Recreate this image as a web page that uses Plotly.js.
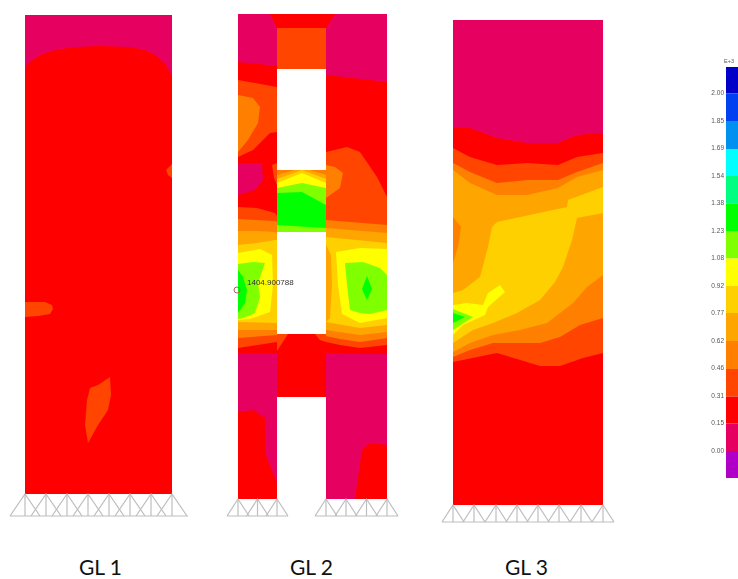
<!DOCTYPE html>
<html>
<head>
<meta charset="utf-8">
<script src="https://cdn.plot.ly/plotly-3.0.1.min.js"></script>
<style>
html,body{margin:0;padding:0;background:#fff;overflow:hidden}
#chart{width:738px;height:579px}
.barlayer{filter:blur(0.7px)}
</style>
</head>
<body>
<div id="chart"></div>
<script>
// ---- contour level colours
const MAG='#E6005F', RED='#FF0000', ORD='#FF4500', ORG='#FF8000', AMB='#FFA500', GLD='#FFD000', YEL='#FFFF00', YGR='#80FF00', GRN='#00FF00';

// ---- colour key
const keyLabels=['2.00','1.85','1.69','1.54','1.38','1.23','1.08','0.92','0.77','0.62','0.46','0.31','0.15','0.00'];
const keyLabelY=[93,121,148,176,203,231,258,286,313,341,368,396,423,451];
const keyBandTop=[67,93.5,121,149,176,203.5,231,258.5,286,313,341,369,396.5,423.5,451];
const keyBandColor=['#0000C8','#0040F0','#0090F0','#00FFFF','#00FF80',GRN,YGR,YEL,GLD,AMB,ORG,ORD,RED,MAG,'#B000C8'];
const keyBandHeight=[26.5,27.5,28,27,27.5,27.5,27.5,27.5,27,28,28,27.5,27,27.5,27];

// ---- GL 1 wall
const gl1Edge=[25,172], gl1Top=15, gl1Bot=494;
const gl1RedX=[25,30,40,55,75,100,130,145,155,165,172];
const gl1RedY=[68,62,55,50,47,46,47,50,55,64,76];
const gl1Blob1X=[172,166,168,172], gl1Blob1Y=[164,170,175,178];
const gl1Blob2X=[25,45,52,53,50,38,25], gl1Blob2Y=[302,302,305,309,314,316,317];
const gl1Blob3X=[98,110,111,108,98,88,85,87,90], gl1Blob3Y=[385,377,395,410,425,443,425,400,388];
const gl1Nodes=[25,46,67,88,109,130,151,172];

// ---- GL 2 left pier
const l2Edge=[238,277], gl2Top=14, gl2Bot=499;
const l2RedX=[238,258,277], l2RedY=[62,64,66];
const l2OrdX=[238,277], l2OrdY=[80,87];
const l2OrgBlobX=[238,253,260,258,248,238], l2OrgBlobY=[95,98,107,123,140,152];
const l2Red2X=[238,253,270,277], l2Red2Y=[157,150,133,132];
const l2MagBlobX=[238,262,263,255,238], l2MagBlobY=[163,163,180,190,195];
const l2BumpX=[272,277,277,274], l2BumpY=[165,163,185,178];
const l2Band1X=[238,257,275,277], l2Band1Y=[207,208,213,216];
const l2Band2Y=[219,220,221,222];
const l2Band3Y=[231,231,232,233];
const l2Band4Y=[245,243,240,240];
const l2YelX=[238,260,272,273,270,250,238], l2YelY=[253,249,255,285,312,319,320];
const l2YgrX=[238,253,265,262,258,260,255,243,238], l2YgrY=[264,262,263,272,283,297,313,318,319];
const l2GrnX=[238,243,247,245,238], l2GrnY=[270,277,290,303,313];
const l2LowX=[238,277];
const l2Low1Y=[322,323], l2Low2Y=[330,330], l2Low3Y=[338,335], l2Low4Y=[348,342], l2Low5Y=[353,353];
const l2BaseRedX=[238,253,265,265,277,277,238], l2BaseRedY=[412,410,418,453,483,499,499];

// ---- GL 2 right pier
const r2Edge=[326,387];
const r2RedY=[75,82];
const r2OrdX=[326,347,360,377,387], r2OrdY=[152,147,152,177,197];
const r2OrgBlobX=[326,335,343,340,326], r2OrgBlobY=[165,167,173,188,198];
const r2Band2Y=[220,225], r2Band3Y=[228,233], r2Band4Y=[237,243];
const r2YelX=[336,360,387,387,360,342,338], r2YelY=[252,248,249,318,323,314,285];
const r2AmbX=[326,331,332,330,326], r2AmbY=[245,255,285,318,322];
const r2YgrX=[345,363,380,387,387,370,360,350,347], r2YgrY=[263,262,268,275,310,314,313,310,285];
const r2GrnX=[367,372,367,362], r2GrnY=[276,289,300,289];
const r2Low1X=[326,360,387], r2Low1Y=[322,328,325], r2Low2Y=[330,335,332];
const r2Low3X=[326,340,360,387], r2Low3Y=[336,339,342,338], r2Low4Y=[342,345,348,345], r2Low5Y=[353,353,354,354];
const r2BaseRedX=[355,362,370,387,387], r2BaseRedY=[499,450,443,445,499];

// ---- GL 2 coupling beams
const m2TopX=[270,335,326,277], m2TopY=[14,14,28,28];
const m2Edge=[277,326];
const m2Beam1Y=[28,69], m2Beam2Y=[170,232], m2Beam3Y=[334,397];
const m2AmbX=[277,295,310,326,326,277], m2AmbY=[175,170,170,175,232,232];
const m2GldX=[277,302,326,326,277], m2GldY=[179,170,179,232,232];
const m2YelX=[277,302,326,326,277], m2YelY=[183,173,183,232,232];
const m2YgrX=[277,302,326,326,277], m2YgrY=[188,183,188,232,232];
const m2GrnX=[277,302,326,326,277], m2GrnY=[193,192,205,228,225];
const m2CornerLX=[277,288,277], m2CornerLY=[334,334,351];
const m2CornerRX=[315,326,326,320], m2CornerRY=[334,334,342,340];
const gl2LeftNodes=[238,257.5,277], gl2RightNodes=[326,346,366.5,387];

// ---- GL 3 wall
const gl3Edge=[453,603], gl3Top=20, gl3Bot=505;
const g3X=[453,470,497,527,558,577,603];
const g3RedY=[128,128,138,143,143,135,133];
const g3OrdY=[148,157,165,163,165,157,153];
const g3OrgY=[163,172,183,180,180,172,163];
const g3AmbY=[170,183,195,195,188,177,170];
const g3GldX=[603,568,567,497,492,488,480,463,453,453,473,493,517,540,555,563,572,577,603];
const g3GldY=[187,200,207,222,227,247,277,290,293,343,330,323,313,300,282,267,240,218,213];
const g3OrgBlobX=[453,461,458,453], g3OrgBlobY=[217,227,247,263];
const g3YelX=[453,467,483,488,500,505,488,485,463,453], g3YelY=[305,303,305,293,285,292,307,315,325,335];
const g3YgrX=[453,473,453], g3YgrY=[309,317,330];
const g3GrnX=[453,465,453], g3GrnY=[313,317,323];
const g3Low1X=[453,470,493,520,547,573,587,603], g3Low1Y=[352,343,335,330,323,303,287,275];
const g3Low2X=[453,470,493,517,540,560,580,603], g3Low2Y=[357,350,343,343,343,337,325,318];
const g3Low3X=[453,473,497,517,540,560,583,603], g3Low3Y=[362,358,353,359,366,366,358,353];
const gl3Nodes=[453,474,496,517,538,559,581,603];

// ---- labels
const wallNames=['GL 1','GL 2','GL 3'], wallNameX=[100,311,526.5], wallNameY=[566,566,566];
const probeText='1404.900788', probeTextX=[247], probeTextY=[283], probeX=[237], probeY=[290];

// ---- helpers that turn the arrays into traces
const traces=[];
function region(x,y,c){traces.push({type:'scatter',mode:'lines',x:x.concat([x[0]]),y:y.concat([y[0]]),fill:'toself',fillcolor:c,line:{width:0,color:c},hoverinfo:'skip',showlegend:false,meta:'soft'});}
function below(x,y,bottom,c){region(x.concat([x[x.length-1],x[0]]),y.concat([bottom,bottom]),c);}
function box(edge,top,bot,c){region([edge[0],edge[1],edge[1],edge[0]],[top,top,bot,bot],c);}
function truss(nodes,top,bot,dx,lo,hi){
  const x=[lo,hi,null],y=[bot,bot,null];
  nodes.forEach(n=>{x.push(n-dx,n,n+dx,null,n,n,null);y.push(bot,top,bot,null,top,bot,null);});
  traces.push({type:'scatter',mode:'lines',x,y,line:{width:1.2,color:'#BEBEBE'},hoverinfo:'skip',showlegend:false,meta:'fine'});
}

// colour key
traces.push({type:'bar',x:keyBandTop.map(()=>732),y:keyBandHeight,base:keyBandTop,width:keyBandTop.map(()=>12),marker:{color:keyBandColor,line:{width:0}},hoverinfo:'skip',showlegend:false});

// GL 1
box(gl1Edge,gl1Top,gl1Bot,MAG);
below(gl1RedX,gl1RedY,gl1Bot,RED);
region(gl1Blob1X,gl1Blob1Y,ORD);region(gl1Blob2X,gl1Blob2Y,ORD);region(gl1Blob3X,gl1Blob3Y,ORD);
truss(gl1Nodes,gl1Bot,516,15,10,188);

// GL 2 left pier
box(l2Edge,gl2Top,gl2Bot,MAG);
below(l2RedX,l2RedY,gl2Bot,RED);
below(l2OrdX,l2OrdY,gl2Bot,ORD);
region(l2OrgBlobX,l2OrgBlobY,ORG);
below(l2Red2X,l2Red2Y,gl2Bot,RED);
region(l2MagBlobX,l2MagBlobY,MAG);
region(l2BumpX,l2BumpY,ORD);
below(l2Band1X,l2Band1Y,gl2Bot,ORD);
below(l2Band1X,l2Band2Y,gl2Bot,ORG);
below(l2Band1X,l2Band3Y,gl2Bot,AMB);
below(l2Band1X,l2Band4Y,gl2Bot,GLD);
region(l2YelX,l2YelY,YEL);
region(l2YgrX,l2YgrY,YGR);
region(l2GrnX,l2GrnY,GRN);
below(l2LowX,l2Low1Y,gl2Bot,AMB);
below(l2LowX,l2Low2Y,gl2Bot,ORG);
below(l2LowX,l2Low3Y,gl2Bot,ORD);
below(l2LowX,l2Low4Y,gl2Bot,RED);
below(l2LowX,l2Low5Y,gl2Bot,MAG);
region(l2BaseRedX,l2BaseRedY,RED);

// GL 2 right pier
box(r2Edge,gl2Top,gl2Bot,MAG);
below(r2Edge,r2RedY,gl2Bot,RED);
below(r2OrdX,r2OrdY,gl2Bot,ORD);
region(r2OrgBlobX,r2OrgBlobY,ORG);
below(r2Edge,r2Band2Y,gl2Bot,ORG);
below(r2Edge,r2Band3Y,gl2Bot,AMB);
below(r2Edge,r2Band4Y,gl2Bot,GLD);
region(r2YelX,r2YelY,YEL);
region(r2AmbX,r2AmbY,AMB);
region(r2YgrX,r2YgrY,YGR);
region(r2GrnX,r2GrnY,GRN);
below(r2Low1X,r2Low1Y,gl2Bot,AMB);
below(r2Low1X,r2Low2Y,gl2Bot,ORG);
below(r2Low3X,r2Low3Y,gl2Bot,ORD);
below(r2Low3X,r2Low4Y,gl2Bot,RED);
below(r2Low3X,r2Low5Y,gl2Bot,MAG);
region(r2BaseRedX,r2BaseRedY,RED);

// GL 2 coupling beams
box(m2Edge,m2Beam1Y[0],m2Beam1Y[1],ORD);
region(m2TopX,m2TopY,RED);
box(m2Edge,m2Beam2Y[0],m2Beam2Y[1],ORG);
region(m2AmbX,m2AmbY,AMB);region(m2GldX,m2GldY,GLD);region(m2YelX,m2YelY,YEL);
region(m2YgrX,m2YgrY,YGR);region(m2GrnX,m2GrnY,GRN);
box(m2Edge,m2Beam3Y[0],m2Beam3Y[1],RED);
region(m2CornerLX,m2CornerLY,ORD);region(m2CornerRX,m2CornerRY,ORD);
truss(gl2LeftNodes,gl2Bot,516,11,227,288);
truss(gl2RightNodes,gl2Bot,516,11,315,398);

// GL 3
box(gl3Edge,gl3Top,gl3Bot,MAG);
below(g3X,g3RedY,gl3Bot,RED);
below(g3X,g3OrdY,gl3Bot,ORD);
below(g3X,g3OrgY,gl3Bot,ORG);
below(g3X,g3AmbY,gl3Bot,AMB);
region(g3GldX,g3GldY,GLD);
region(g3OrgBlobX,g3OrgBlobY,ORG);
region(g3YelX,g3YelY,YEL);
region(g3YgrX,g3YgrY,YGR);
region(g3GrnX,g3GrnY,GRN);
below(g3Low1X,g3Low1Y,gl3Bot,ORG);
below(g3Low2X,g3Low2Y,gl3Bot,ORD);
below(g3Low3X,g3Low3Y,gl3Bot,RED);
truss(gl3Nodes,gl3Bot,522,11,442,614);

// probe marker + text
traces.push({type:'scatter',mode:'markers',x:probeX,y:probeY,marker:{symbol:'circle-open',size:6,color:'#B06060',line:{width:1}},hoverinfo:'skip',showlegend:false,meta:'fine'});
traces.push({type:'scatter',mode:'text',x:probeTextX,y:probeTextY,text:[probeText],textposition:'middle right',textfont:{family:'Liberation Sans',size:8,color:'#333'},hoverinfo:'skip',showlegend:false,meta:'fine'});

// colour key labels
traces.push({type:'scatter',mode:'text',x:keyLabels.map(()=>724),y:keyLabelY,text:keyLabels,textposition:'middle left',textfont:{family:'Liberation Sans',size:6.5,color:'#555'},hoverinfo:'skip',showlegend:false,meta:'fine'});
traces.push({type:'scatter',mode:'text',x:[729],y:[62],text:['E+3'],textposition:'middle center',textfont:{family:'Liberation Sans',size:5.5,color:'#555'},hoverinfo:'skip',showlegend:false,meta:'fine'});

const annotations=wallNames.map((t,i)=>({text:t,x:wallNameX[i],y:wallNameY[i],xref:'x',yref:'y',showarrow:false,xanchor:'center',yanchor:'middle',font:{family:'Lato',size:21,color:'#111'}}));

Plotly.newPlot('chart',traces,{
  width:738,height:579,margin:{l:0,r:0,t:0,b:0},
  paper_bgcolor:'#fff',plot_bgcolor:'#fff',showlegend:false,barmode:'overlay',
  xaxis:{range:[0,738],visible:false,fixedrange:true},
  yaxis:{range:[579,0],visible:false,fixedrange:true},
  annotations
},{staticPlot:true,displayModeBar:false}).then(gd=>{
  const scatterMeta=traces.filter(t=>t.type==='scatter').map(t=>t.meta);
  gd.querySelectorAll('.scatterlayer .trace').forEach((g,i)=>{
    g.style.filter=scatterMeta[i]==='soft'?'blur(0.75px)':'blur(0.3px)';
  });
});
</script>
</body>
</html>
